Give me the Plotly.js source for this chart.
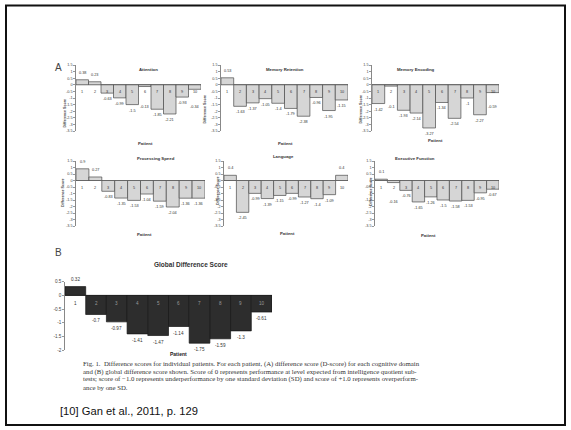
<!DOCTYPE html>
<html>
<head>
<meta charset="utf-8">
<script src="https://cdn.plot.ly/plotly-3.0.1.min.js"></script>
<style>
html,body{margin:0;padding:0;background:#fff;}
#chart{width:571px;height:430px;}
</style>
</head>
<body>
<div id="chart"></div>
<script>
// ---------- data ----------
const patients = [1, 2, 3, 4, 5, 6, 7, 8, 9, 10];
const attention = [0.38, 0.23, -0.63, -0.99, -1.5, -0.13, -1.85, -2.21, -0.93, -0.34];
const memoryRetention = [0.53, -1.63, -1.37, -1.05, -1.4, -1.79, -2.38, -0.96, -1.95, -1.15];
const memoryEncoding = [-1.42, -0.1, -1.93, -2.14, -3.27, -1.34, -2.54, -1, -2.27, -0.59];
const processingSpeed = [0.9, 0.27, -0.83, -1.35, -1.53, -1.04, -1.59, -2.04, -1.36, -1.36];
const language = [0.4, -2.45, -0.99, -1.39, -1.15, -0.99, -1.27, -1.4, -1.09, 0.4];
const executiveFunction = [0.1, -0.16, -0.76, -1.65, -1.26, -1.5, -1.58, -1.53, -0.95, -0.67];
const globalScore = [0.32, -0.7, -0.97, -1.41, -1.47, -1.14, -1.75, -1.59, -1.3, -0.61];

const panelTitles = ["Attention", "Memory Retention", "Memory Encoding",
                     "Processing Speed", "Language", "Executive Function"];
const globalTitle = "Global Difference Score";
const yTickValsA = [1.5, 1, 0.5, 0, -0.5, -1, -1.5, -2, -2.5, -3, -3.5];
const yTickTextA = ["1.5", "1", "0.5", "0", "-0.5", "-1", "-1.5", "-2", "-2.5", "-3", "-3.5"];
const yTickValsB = [0.5, 0, -0.5, -1, -1.5, -2];
const yTickTextB = ["0.5", "0", "-0.5", "-1", "-1.5", "-2"];
const captionLines = [
  "Fig. 1.  Difference scores for individual patients. For each patient, (A) difference score (D-score) for each cognitive domain",
  "and (B) global difference score shown. Score of 0 represents performance at level expected from intelligence quotient sub-",
  "tests; score of \u22121.0 represents underperformance by one standard deviation (SD) and score of +1.0 represents overperform-",
  "ance by one SD."
];
const citation = "[10] Gan et al., 2011, p. 129";

// ---------- layout helpers ----------
const W = 571, H = 430;
const px = x => x / W;
const py = y => 1 - y / H;

const seriesA = [attention, memoryRetention, memoryEncoding, processingSpeed, language, executiveFunction];
// pixel boxes: [xLeft, xRight, yTop, yBottom]
const boxesA = [
  [76, 201, 65, 131],
  [221, 348, 65, 131],
  [372, 499, 65, 131],
  [76, 205, 161, 226],
  [224, 348, 161, 226],
  [375, 499, 161, 226]
];
const boxB = [65, 272, 281.7, 350];

const FONT = "Liberation Sans, Arial, sans-serif";
const SERIF = "Liberation Serif, Times New Roman, serif";
const traces = [];
const layout = {
  width: W, height: H,
  margin: {l: 0, r: 0, t: 0, b: 0},
  paper_bgcolor: "#fff", plot_bgcolor: "rgba(0,0,0,0)",
  showlegend: false,
  font: {family: FONT, color: "#333"},
  annotations: [],
  shapes: [{type: "rect", xref: "paper", yref: "paper",
            x0: px(6), x1: px(565), y0: py(425), y1: py(5.5),
            line: {color: "#111", width: 2}, fillcolor: "rgba(0,0,0,0)"}]
};

function addPanel(idx, vals, box, opts) {
  const n = idx === 0 ? "" : String(idx + 1);
  const xa = "x" + n, ya = "y" + n;
  traces.push({
    type: "bar", x: patients, y: vals, width: 1,
    xaxis: xa, yaxis: ya,
    marker: {color: opts.fill, line: {color: opts.edge, width: 0.7}},
    hoverinfo: "skip"
  });
  layout["xaxis" + n] = {
    domain: [px(box[0]), px(box[1])], range: [0.5, 10.5],
    visible: false, fixedrange: true, anchor: ya
  };
  layout["yaxis" + n] = {
    domain: [py(box[3]), py(box[2])], range: opts.range,
    tickvals: opts.tickvals, ticktext: opts.ticktext,
    tickfont: {size: opts.tickSize, color: "#444", family: FONT},
    ticks: "outside", ticklen: 2, tickwidth: 0.6, tickcolor: "#555",
    showline: true, linecolor: "#555", linewidth: 0.7,
    showgrid: false, zeroline: true, zerolinecolor: opts.edge, zerolinewidth: 0.7,
    fixedrange: true, anchor: xa, position: px(box[0])
  };
  vals.forEach((v, i) => {
    // small negative bars: label is moved below the patient number
    const lowered = v < 0 && opts.minLabelY !== null && v > opts.lowerIfAbove;
    const ly = lowered ? opts.minLabelY : v;
    layout.annotations.push({
      xref: xa, yref: ya, x: patients[i], y: ly,
      text: String(v), showarrow: false,
      yanchor: v < 0 ? "top" : "bottom", yshift: v < 0 ? -2 : 3,
      font: {size: opts.labelSize, color: "#333", family: FONT}
    });
    layout.annotations.push({
      xref: xa, yref: ya, x: patients[i], y: opts.numY,
      text: String(patients[i]), showarrow: false,
      font: {size: opts.labelSize, color: (v < 0 ? opts.numColorIn : "#333"), family: FONT}
    });
  });
}

seriesA.forEach((vals, i) => {
  addPanel(i, vals, boxesA[i], {
    fill: "#d6d6d6", edge: "#4a4a4a", range: [-3.5, 1.5],
    tickvals: yTickValsA, ticktext: yTickTextA, tickSize: 3.8,
    labelSize: 3.8, numY: -0.55, numColorIn: "#333",
    minLabelY: -1.2, lowerIfAbove: -0.62
  });
});
addPanel(6, globalScore, boxB, {
  fill: "#2d2d2d", edge: "#151515", range: [-2, 0.5],
  tickvals: yTickValsB, ticktext: yTickTextB, tickSize: 4.6,
  labelSize: 4.6, numY: -0.3, numColorIn: "#9a9a9a",
  minLabelY: null, lowerIfAbove: 0
});

// titles, axis labels
const titlePos = [[137, 65], [285, 65], [437, 65], [135, 159], [283, 156], [437, 159]];
const patientPos = [[136, 139], [285, 139], [445, 136], [135, 234], [287, 233], [438, 235]];
const dsPos = [[60, 97], [205, 93], [361, 93], [59, 193], [218, 191], [371, 192]];
panelTitles.forEach((t, i) => {
  layout.annotations.push({xref: "paper", yref: "paper", x: px(titlePos[i][0]), y: py(titlePos[i][1]),
    text: "<b>" + t + "</b>", showarrow: false, font: {size: 4.3, color: "#333", family: FONT}});
  layout.annotations.push({xref: "paper", yref: "paper", x: px(patientPos[i][0]), y: py(patientPos[i][1]),
    text: "<b>Patient</b>", showarrow: false, font: {size: 4.3, color: "#333", family: FONT}});
  layout.annotations.push({xref: "paper", yref: "paper", x: px(dsPos[i][0]), y: py(dsPos[i][1]),
    text: "<b>Difference Score</b>", textangle: -90, showarrow: false, font: {size: 3.6, color: "#444", family: FONT}});
});
layout.annotations.push({xref: "paper", yref: "paper", x: px(152), y: py(264),
  text: "<b>" + globalTitle + "</b>", showarrow: false, font: {size: 6.5, color: "#333", family: FONT}});
layout.annotations.push({xref: "paper", yref: "paper", x: px(168), y: py(359),
  text: "<b>Patient</b>", showarrow: false, font: {size: 5, color: "#222", family: FONT}});
layout.annotations.push({xref: "paper", yref: "paper", x: px(53), y: py(60), xanchor: "left",
  text: "A", showarrow: false, font: {size: 10, color: "#444", family: FONT}});
layout.annotations.push({xref: "paper", yref: "paper", x: px(53), y: py(253), xanchor: "left",
  text: "B", showarrow: false, font: {size: 10, color: "#444", family: FONT}});
captionLines.forEach((t, i) => {
  layout.annotations.push({xref: "paper", yref: "paper", x: px(81), y: py(370 + i * 7.6), xanchor: "left",
    text: t, showarrow: false, font: {size: 6.8, color: "#333", family: SERIF}});
});
layout.annotations.push({xref: "paper", yref: "paper", x: px(58), y: py(419), xanchor: "left",
  text: citation, showarrow: false, font: {size: 11.2, color: "#111", family: FONT}});

Plotly.newPlot("chart", traces, layout, {staticPlot: true, displayModeBar: false});
</script>
</body>
</html>
